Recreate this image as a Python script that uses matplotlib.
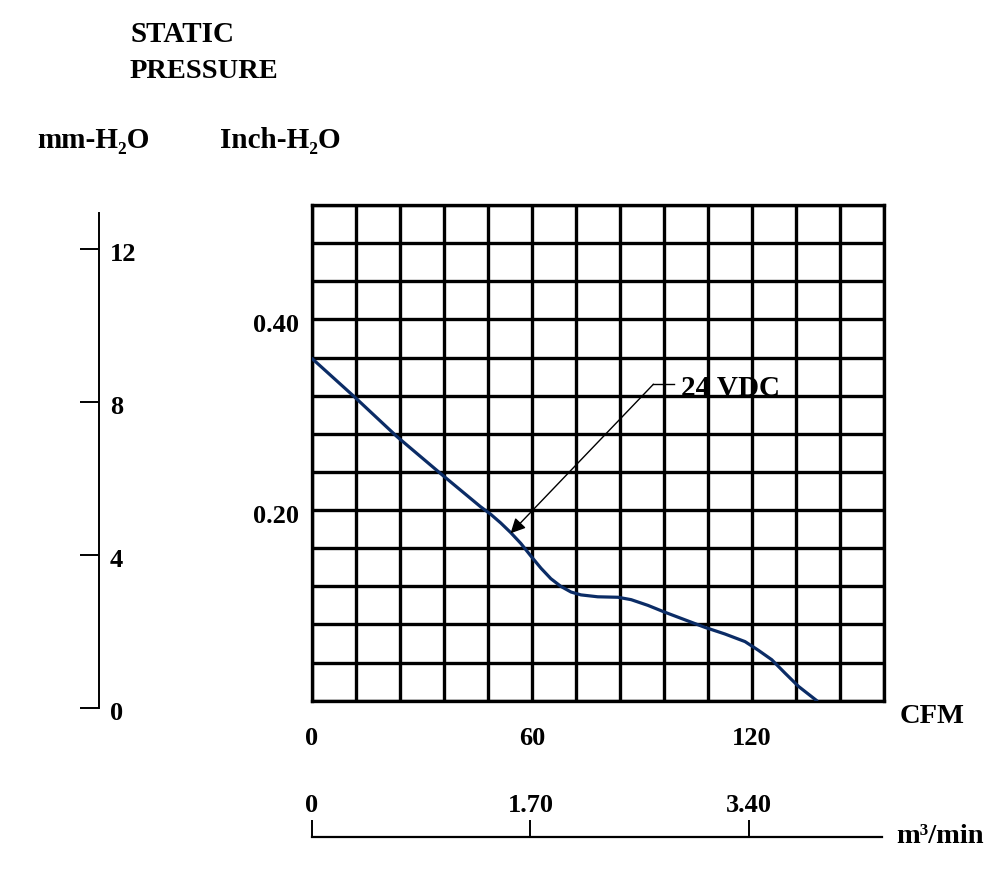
import matplotlib
matplotlib.use("Agg")
import matplotlib.pyplot as plt
import matplotlib.transforms as mtransforms
import numpy as np

# fan curve (CFM vs inch-H2O)
cfm = [0, 11.8, 23.2, 35.5, 46.0, 48.8, 51.5, 54.2, 57.0, 59.7, 62.5, 65.2,
       67.9, 70.7, 73.4, 78.0, 83.5, 87.1, 91.7, 96.2, 101.7, 107.2, 112.7,
       118.2, 121.8, 125.5, 129.1, 132.8, 137.8]
inch_h2o = [0.359, 0.318, 0.277, 0.237, 0.2035, 0.1955, 0.1865, 0.1765, 0.165,
            0.152, 0.139, 0.128, 0.120, 0.114, 0.111, 0.109, 0.1085, 0.106,
            0.100, 0.093, 0.085, 0.077, 0.070, 0.062, 0.053, 0.043, 0.029,
            0.015, 0.0]

cfm_ticks = [0, 60, 120]
inch_ticks = [0.20, 0.40]
mm_ticks = [0, 4, 8, 12]
m3_ticks = [0, 1.70, 3.40]
m3_labels = ["0", "1.70", "3.40"]

CFM_MAX = 156
INCH_MAX = 0.52
MM_MAX = 12.94
M3_PER_CFM = 1.70 / 60

FONT = ["Liberation Serif", "DejaVu Serif"]
plt.rcParams["font.family"] = FONT
plt.rcParams["font.weight"] = "bold"

W, H = 1000, 885
fig = plt.figure(figsize=(W / 100, H / 100), dpi=100)


def fx(x):
    return x / W


def fy(y):
    return 1 - y / H


# main grid axes
left, right, top, bottom = 312, 883.5, 205, 700.7
ax = fig.add_axes([fx(left), fy(bottom), (right - left) / W, (bottom - top) / H])
ax.set_xlim(0, CFM_MAX)
ax.set_ylim(0, INCH_MAX)
ax.set_xticks(np.arange(0, CFM_MAX + 1, 12))
ax.set_yticks(np.arange(0, INCH_MAX + 0.001, 0.04))
ax.tick_params(length=0, labelbottom=False, labelleft=False)
ax.grid(True, color="black", lw=2.4)
for s in ax.spines.values():
    s.set_linewidth(2.4)
    s.set_color("black")

ax.plot(cfm, inch_h2o, color="#0b2c66", lw=2.3, solid_capstyle="round",
        solid_joinstyle="round", zorder=3)

# tick labels as text, with the reference offsets
ytr = mtransforms.offset_copy(ax.get_yaxis_transform(), fig=fig, x=-13, y=-12.5, units="dots")
for v in inch_ticks:
    ax.text(0, v, f"{v:.2f}", transform=ytr, ha="right", va="baseline", fontsize=19)
xtr = mtransforms.offset_copy(ax.get_xaxis_transform(), fig=fig, y=-44, units="dots")
for v in cfm_ticks:
    ax.text(v, 0, str(v), transform=xtr, ha="center", va="baseline", fontsize=19)

# 24 VDC label with arrow
ax.plot([93.2, 98.9], [0.332, 0.332], color="black", lw=1.0)
ax.annotate("", xy=(54.2, 0.1756), xytext=(93.2, 0.332),
            arrowprops=dict(arrowstyle="-|>", color="black", lw=1.0,
                            mutation_scale=22, shrinkA=0, shrinkB=0))
ax.text(100.8, 0.320, "24 VDC", fontsize=21, va="baseline", ha="left", zorder=4)

# mm-H2O scale on the far left
mm_top, mm_bot, mm_x = 213, 708.3, 99
axm = fig.add_axes([fx(mm_x), fy(mm_bot), 0.0005, (mm_bot - mm_top) / H])
axm.set_ylim(0, MM_MAX)
axm.set_xticks([])
axm.set_yticks(mm_ticks)
axm.tick_params(axis="y", direction="out", length=14, width=1.4, labelleft=False)
for name, s in axm.spines.items():
    s.set_visible(name == "left")
axm.spines["left"].set_linewidth(1.4)
mtr = mtransforms.offset_copy(axm.get_yaxis_transform(), fig=fig, x=11, y=-12, units="dots")
for v in mm_ticks:
    axm.text(0, v, str(v), transform=mtr, ha="left", va="baseline", fontsize=19)

# m3/min scale at the bottom
m3_y = 836.7
axb = fig.add_axes([fx(left), fy(m3_y), (881.7 - left) / W, 0.0005])
axb.set_xlim(0, CFM_MAX * M3_PER_CFM * (right - left) / (881.7 - left))
axb.set_yticks([])
axb.set_xticks(m3_ticks)
axb.tick_params(axis="x", direction="in", length=12, width=1.4, labelbottom=False)
for name, s in axb.spines.items():
    s.set_visible(name == "bottom")
axb.spines["bottom"].set_linewidth(1.6)
btr = mtransforms.offset_copy(axb.get_xaxis_transform(), fig=fig, y=25, units="dots")
for v, lab in zip(m3_ticks, m3_labels):
    axb.text(v, 0, lab, transform=btr, ha="center", va="baseline", fontsize=19)

# headings and unit labels
fig.text(fx(130), fy(42), "STATIC", fontsize=21, va="baseline")
fig.text(fx(130), fy(78.5), "PRESSURE", fontsize=20.5, va="baseline")
fig.text(fx(37), fy(148), "mm-H\u2082O", fontsize=21, va="baseline")
fig.text(fx(220), fy(148), "Inch-H\u2082O", fontsize=21, va="baseline")
fig.text(fx(900), fy(723), "CFM", fontsize=20.5, va="baseline")
fig.text(fx(896), fy(842.7), "m\u00b3/min", fontsize=20.5, va="baseline")

fig.savefig("out.png", dpi=100)
